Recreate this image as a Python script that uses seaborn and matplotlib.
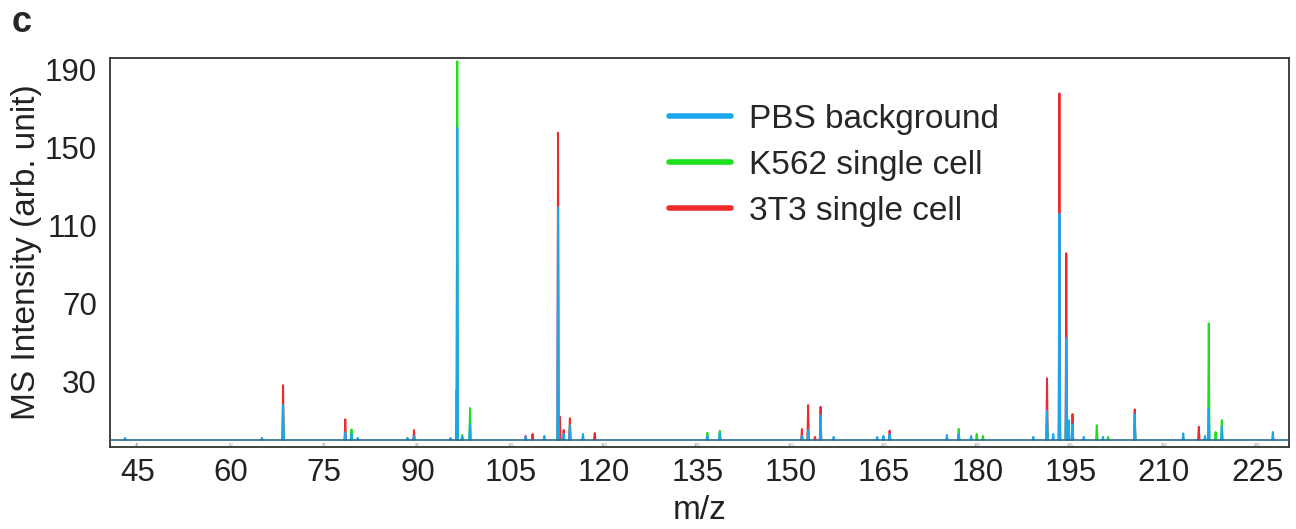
import numpy as np
import pandas as pd
import seaborn as sns
import matplotlib.pyplot as plt
from matplotlib.lines import Line2D

# Peak lists (m/z, intensity)
pbs_mz = [43.0, 65.0, 68.4, 78.4, 79.4, 80.4, 88.4, 89.45, 95.3, 96.4, 97.2, 98.45,
          107.4, 110.4, 112.6, 113.5, 114.5, 116.6, 136.6, 138.6, 151.8, 152.8,
          154.8, 156.9, 163.9, 164.9, 165.9, 175.1, 177.0, 179.0, 189.0, 191.2,
          192.2, 193.2, 194.3, 194.7, 195.3, 197.1, 200.2, 205.3, 213.1, 216.6,
          217.2, 219.3, 227.5]
pbs_int = [1, 1, 18, 4, 3, 1, 1, 2, 1, 160, 1.5, 8,
           1.5, 2, 119, 3, 7.5, 3, 2, 3.5, 2, 5,
           12.5, 1.5, 1.5, 2, 3, 2.5, 3, 2, 1.5, 15,
           3, 116, 52, 10, 8, 1.5, 1.5, 13, 3.3, 2,
           16, 7, 4]

k562_mz = [68.4, 79.4, 96.4, 97.2, 98.45, 112.6, 136.6, 138.6, 177.0, 179.9,
           180.9, 191.2, 193.2, 194.3, 199.2, 201.0, 205.3, 217.2, 218.3, 219.3]
k562_int = [15, 5.3, 194, 2.5, 16.3, 20, 3.6, 4.6, 5.6, 3,
            2, 10, 25, 20, 7.5, 1.5, 8, 59.7, 4, 10.1]

t3_mz = [68.4, 78.4, 89.45, 96.3, 107.4, 108.5, 112.6, 112.9, 113.5, 114.5,
         118.5, 151.8, 152.8, 153.9, 154.8, 165.9, 191.2, 193.2, 194.3, 195.3,
         205.3, 215.6]
t3_int = [28, 10.5, 5, 25.5, 2, 3, 157.4, 11.8, 5, 11,
          3.5, 5.5, 17.8, 1.5, 16.9, 4.7, 31.5, 177.6, 95.6, 13.2,
          15.6, 6.7]

labels = ["PBS background", "K562 single cell", "3T3 single cell"]
colors = ["#1aa7ec", "#1fe01f", "#ee2b2b"]
x_ticks = [45, 60, 75, 90, 105, 120, 135, 150, 165, 180, 195, 210, 225]
y_ticks = [30, 70, 110, 150, 190]


# Build stick-spectrum table: each peak is a narrow triangle
def peaks_to_df(mz, inten, name, w=0.12):
    rows = []
    for i, (m, h) in enumerate(zip(mz, inten)):
        rows += [(name, i, m - w, 0.0), (name, i, m, h), (name, i, m + w, 0.0)]
    return pd.DataFrame(rows, columns=["sample", "peak", "mz", "intensity"])


df = pd.concat([peaks_to_df(pbs_mz, pbs_int, labels[0]),
                peaks_to_df(k562_mz, k562_int, labels[1]),
                peaks_to_df(t3_mz, t3_int, labels[2])], ignore_index=True)

sns.set_style("white")
plt.rcParams["font.family"] = ["Liberation Sans", "DejaVu Sans"]

fig = plt.figure(figsize=(12.96, 5.29), dpi=100)
ax = fig.add_axes([0.0845, 0.155, 0.9101, 0.7353])

# draw red first, then green, blue on top
for name, col, z in [(labels[2], colors[2], 2), (labels[1], colors[1], 3), (labels[0], colors[0], 4)]:
    sub = df[df["sample"] == name]
    sns.lineplot(data=sub, x="mz", y="intensity", units="peak", estimator=None,
                 sort=False, color=col, lw=1.4, zorder=z, ax=ax, legend=False)

ax.axhline(0, color="#2e6d8e", lw=1.2, zorder=5)

ax.set_xlim(40.5, 230.1)
ax.set_ylim(-3.7, 195.7)
ax.set_xticks(x_ticks)
ax.set_xticklabels([str(t) for t in x_ticks])
ax.set_yticks(y_ticks)
ax.tick_params(axis="x", direction="in", length=3, width=0.6, color="#777777",
               labelsize=22.5, pad=8, labelcolor="#222222")
ax.tick_params(axis="y", length=0, labelsize=22.5, pad=9, labelcolor="#222222")

# faint inner labels from the instrument software
for t in x_ticks:
    ax.text(t, -2.6, str(t), fontsize=3, color="#888888", ha="center", va="center")

for s in ax.spines.values():
    s.set_color("#333333")
    s.set_linewidth(1.3)

ax.set_xlabel("m/z", fontsize=24, color="#222222", labelpad=5)
ax.set_ylabel("MS Intensity (arb. unit)", fontsize=24, color="#222222", labelpad=2)

handles = [Line2D([0], [0], color=c, lw=4) for c in colors]
ax.legend(handles, labels, loc="upper left", bbox_to_anchor=(0.449, 0.96), frameon=False,
          fontsize=24, handlelength=1.86, handletextpad=0.54, labelspacing=0.45)

fig.text(0.009, 0.9395, "c", fontsize=26, fontweight="bold", va="baseline")

plt.savefig("out.png", dpi=100)
